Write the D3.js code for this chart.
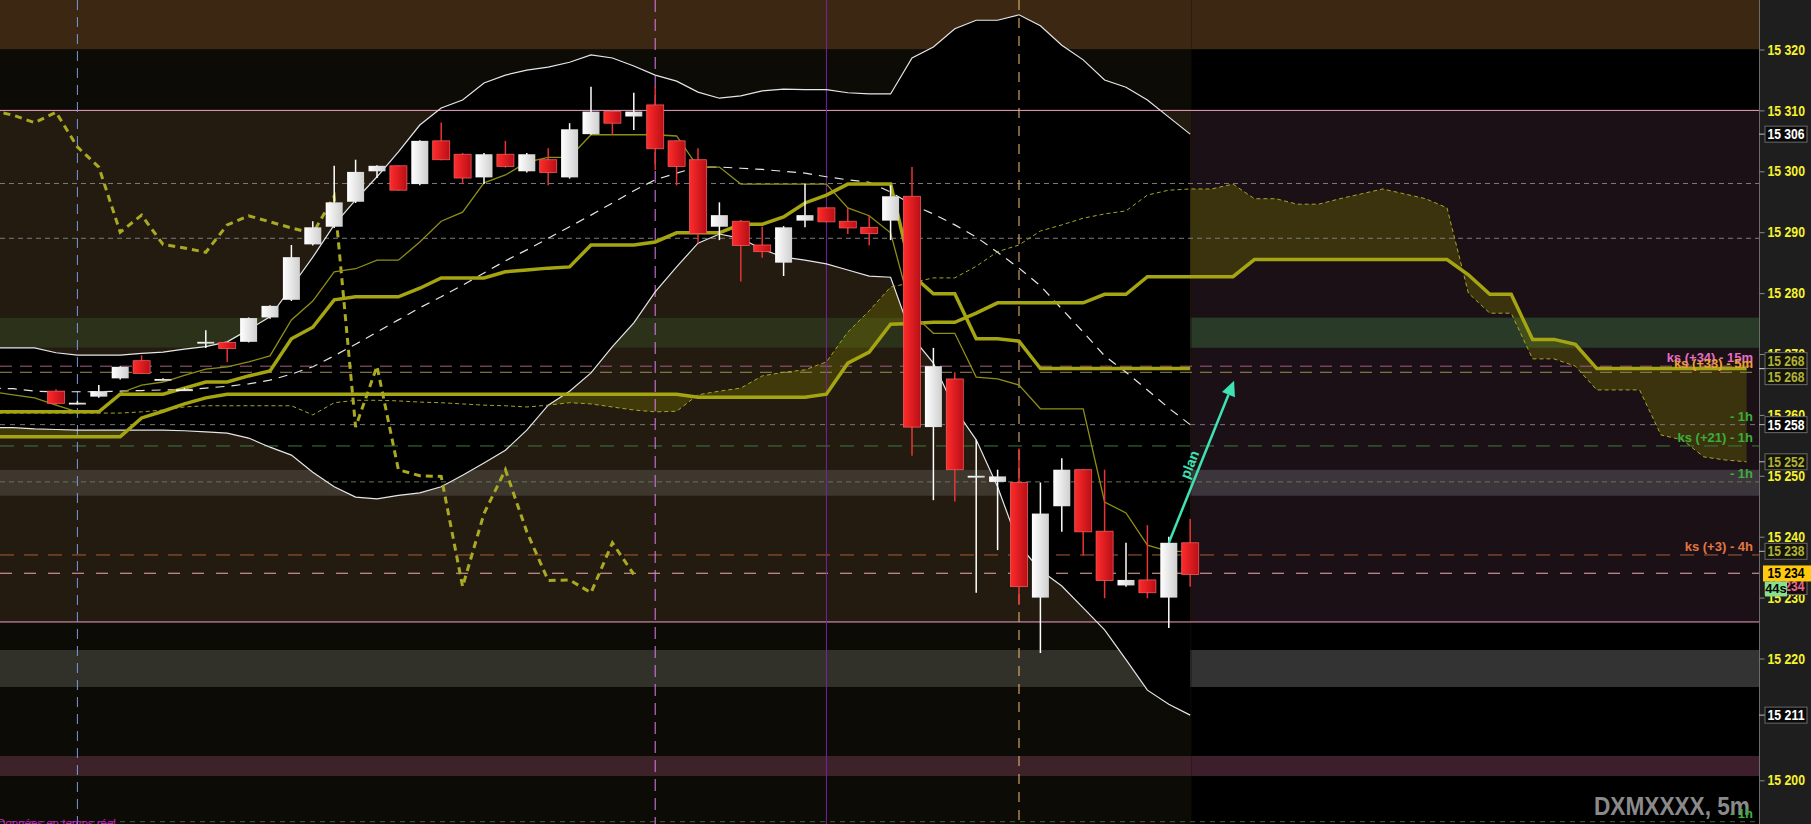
<!DOCTYPE html>
<html>
<head>
<meta charset="utf-8">
<script src="https://cdn.jsdelivr.net/npm/d3@7"></script>
<style>
  html, body { margin: 0; padding: 0; background: #000; overflow: hidden; }
  svg { display: block; }
  text { font-family: "Liberation Sans", Arial, sans-serif; }
</style>
</head>
<body>
<div id="chart"></div>
<script>
// DXMXXXX 5m - candles + bollinger + ichimoku

// ---- data ----
const openP = [15263.9,15262,15263,15266,15268.9,15265.8,15264.2,15272,15271.9,15272,
  15276,15278.9,15288,15290.9,15295,15300,15300.9,15297.9,15305,15302.8,
  15299,15302.8,15300,15301.9,15299,15306.1,15309.8,15309,15310.9,15305,
  15301.9,15290.9,15291.8,15287.9,15285,15291.9,15294,15291.8,15290.8,15291.9,
  15295.9,15258,15265.9,15250,15249,15248.9,15230,15245,15251,15240.9,
  15232,15232.9,15230,15239]
const highP = [15264.2,15262.3,15264.9,15268,15269.8,15266,15264.4,15273.9,15272,15276,
  15278,15287.9,15291.8,15300.9,15301.9,15301,15301,15305.1,15308,15303,
  15303,15305,15303,15303.8,15307.9,15313.9,15310,15312.9,15313.9,15305.1,
  15303.8,15294.9,15292,15290.9,15291,15297.9,15294.1,15294,15292.7,15297.7,
  15300.7,15271,15267,15255.9,15251,15254.5,15248.9,15252.9,15251.1,15251,
  15239,15241.9,15240,15242.9]
const lowP = [15261.6,15261.7,15262.8,15265.8,15266.7,15265.7,15264,15271,15268.7,15271.9,
  15275.8,15278.7,15287.8,15290.7,15294.8,15298.9,15296.8,15297.7,15301.8,15297.9,
  15297.9,15300.6,15299.8,15297.7,15298.8,15306,15306,15306.8,15300.2,15297.7,
  15288.2,15288.7,15281.9,15285.8,15282.8,15290.8,15291.6,15289.7,15287.8,15288.7,
  15253.3,15246,15245.8,15230.8,15237.8,15228.8,15220.9,15240.8,15236.9,15229.9,
  15231.8,15229.9,15225,15231.8]
const closeP = [15261.9,15262,15263.9,15267.9,15266.8,15265.9,15264.2,15272,15270.9,15275.9,
  15277.9,15285.9,15290.8,15294.9,15299.9,15300.9,15296.9,15305,15301.9,15298.9,
  15302.8,15300.8,15302.8,15299.8,15306.9,15309.8,15307.9,15309.8,15303.7,15300.8,
  15289.8,15292.8,15287.8,15286.8,15290.8,15292.8,15291.7,15290.7,15289.8,15295.9,
  15258,15268,15251,15250,15249.9,15231.8,15243.8,15251,15240.8,15232.8,
  15232.9,15230.8,15239,15233.8]

// indicators start at bar -3 (off the left edge)
const bbUpper = [15271,15271,15271,15270.2,15269.8,15269.8,15269.8,15270.1,15270.3,15270.8,
  15271.2,15272,15274,15276.1,15281,15285.9,15291.2,15295.3,15299.1,15303.2,
  15307.6,15310.4,15311.7,15314.5,15315.8,15316.6,15317.1,15317.9,15319.1,15318.6,
  15317.3,15315.8,15314.8,15313,15312,15312.4,15313.2,15313.5,15313.4,15313.4,
  15312.9,15312.7,15312.7,15318.6,15320.4,15323.4,15324.8,15324.8,15325.7,15323.9,
  15320.7,15318.3,15315,15313.8,15311.7,15308.9,15306.1]
const bbMid = [15264.4,15264.3,15263.9,15263.8,15263.8,15263.8,15263.9,15264,15264.1,15264.1,
  15264.4,15264.7,15265.1,15265.7,15266.7,15267.9,15269.7,15271.6,15273.6,15275.6,
  15277.6,15279.4,15281.3,15283.3,15285.3,15287.1,15289,15290.9,15292.8,15294.8,
  15296.8,15298.6,15299.7,15300.7,15300.7,15300.5,15300.3,15300,15299.7,15299.1,
  15298.6,15298.2,15296.6,15294.5,15293,15291.2,15289.2,15286.7,15284.1,15281.2,
  15277.4,15273.6,15269.7,15267,15264.1,15261.1,15258.4]
const bbLower = [15257.9,15257.9,15257.7,15257.6,15257.5,15257.5,15257.5,15257.5,15257.5,15257.4,
  15257.2,15257,15256.2,15254.7,15253.4,15250.6,15248.2,15246.5,15246.2,15246.8,
  15247.2,15248.2,15250.1,15252.1,15254.2,15257.5,15261.6,15263.9,15266.9,15271.2,
  15275.1,15280.2,15284.3,15288.2,15289.7,15289,15287.2,15285.9,15285.4,15284.8,
  15283.8,15282.8,15282.6,15272.8,15268.5,15261,15255.9,15248.2,15238.6,15234.5,
  15231.9,15228.3,15224.7,15219.8,15214.8,15212.5,15210.7]
const tenkan = [15263.8,15263.3,15262.8,15261.6,15260.5,15260.5,15263.6,15264.9,15265.4,15266.5,
  15267.5,15267.9,15268.7,15269.7,15275.6,15278.7,15283.5,15284,15285.4,15285.4,
  15288.4,15291.8,15293.3,15298.1,15299.4,15301.5,15302.3,15302.3,15306,15306,
  15306,15306,15305.8,15300.7,15300.7,15297.9,15297.9,15297.9,15297.9,15297.9,
  15294,15292.7,15289.9,15276.7,15273.4,15273.4,15266.2,15265.9,15264.9,15261,
  15261,15261,15245.7,15243.9,15238.6,15237.6,15237.6]
const kijun = [15260.5,15260.5,15260.5,15260.5,15260.5,15260.5,15263.4,15263.4,15263.4,15264.4,
  15265.4,15265.4,15266.4,15267.2,15272.5,15274.4,15278.9,15279.4,15279.4,15279.4,
  15280.8,15282.5,15282.5,15282.5,15283.5,15283.8,15284.1,15284.3,15287.9,15287.9,
  15287.9,15288.4,15289.9,15289.9,15289.9,15291.3,15291.3,15292.5,15294.8,15296.1,
  15297.9,15297.9,15297.9,15283,15279.9,15279.9,15272.5,15272.5,15272.1,15267.6,
  15267.6,15267.6,15267.6,15267.6,15267.6,15267.6,15267.6]
// lagging span, bars -3 .. 27
const chikou = [15310,15309.2,15308,15309.7,15304,15300.7,15290,15292.8,15288,15287.4,
  15286.7,15291.2,15292.7,15291.7,15290.7,15289.8,15295.9,15258,15268,15251,
  15250,15249.9,15231.8,15243.8,15251,15240.8,15232.8,15232.9,15230.8,15239,15233.8]
// leading spans, bars -3 .. 79
const spanA = [15260.3,15260.3,15260.3,15260.3,15260.3,15260.3,15260.3,15260.5,15260.8,15261.3,
  15261.5,15261.5,15261.5,15261.5,15261.5,15260,15262,15262.4,15262.4,15262.3,
  15262.1,15262,15261.8,15261.6,15261.5,15261.3,15261.6,15262,15261.8,15261.3,
  15260.8,15260.5,15260.6,15263.3,15263.9,15264.4,15266.4,15267,15267.4,15268.7,
  15273.6,15277.1,15281,15281.7,15282.5,15282.5,15284.4,15286.8,15287.9,15290.2,
  15291.2,15292.3,15293,15293.5,15296.1,15296.9,15297.1,15297.1,15297.9,15295.5,
  15295.5,15294.6,15294.6,15295.5,15296.3,15297.1,15296.3,15295.5,15294,15280,
  15276.7,15276.7,15269.2,15269.2,15268,15264.1,15264.1,15264.1,15256.7,15255.9,
  15253.1,15252.6,15252.3]
const spanB = [15256.4,15256.4,15256.4,15256.4,15256.4,15256.4,15256.4,15259.5,15260.6,15261.8,
  15262.8,15263.4,15263.4,15263.4,15263.4,15263.4,15263.4,15263.4,15263.4,15263.4,
  15263.4,15263.4,15263.4,15263.4,15263.4,15263.4,15263.4,15263.4,15263.4,15263.4,
  15263.4,15263.4,15263.4,15262.9,15262.9,15262.9,15262.9,15262.9,15262.9,15263.4,
  15268.5,15270.3,15274.9,15275,15275.2,15275.2,15276.7,15278.4,15278.4,15278.4,
  15278.4,15278.4,15279.8,15279.8,15282.7,15282.7,15282.7,15282.7,15282.7,15285.5,
  15285.5,15285.5,15285.5,15285.5,15285.5,15285.5,15285.5,15285.5,15285.5,15283,
  15279.8,15279.8,15272.4,15272.4,15271.6,15267.6,15267.6,15267.6,15267.6,15267.6,
  15267.6,15267.6,15267.6]

// background price zones (past / future colours)
const zoneTop = [15335, 15320, 15310, 15276, 15271, 15251, 15246.7, 15226, 15221.4, 15215.3, 15204, 15200.7]
const zoneBottom = [15320, 15310, 15276, 15271, 15251, 15246.7, 15226, 15221.4, 15215.3, 15204, 15200.7, 15180]
const zonePast = ['#3b2712', '#0c0b05', '#231a10', '#2b3219', '#231a10', '#3d372d', '#231a10', '#0c0b05', '#31312a', '#0c0b05', '#3d2229', '#0c0b05']
const zoneFuture = ['#3b2712', '#000000', '#1b1016', '#293a29', '#1b1016', '#3c353b', '#1b1016', '#000000', '#333333', '#000000', '#3d1f2b', '#000000']

// horizontal levels
const levelPrices = [15310, 15226, 15298, 15289, 15268, 15267, 15258.4, 15254.9, 15249, 15237, 15234, 15193.2]
const levelColors = ['#f0a2c4', '#f0a2c4', '#7c7c7c', '#7c7c7c', '#a0607e', '#a08a55', '#7a7a7a', '#3f7a3f', '#667458', '#a85c38', '#f0a8a8', '#3a6a3a']
const levelDash = [null, null, '5,4', '5,4', '12,8', '12,8', '5,5', '14,10', '5,4', '14,10', '12,12', '5,5']

const levelLabelPrices = [15268, 15267, 15258.4, 15254.9, 15249, 15237, 15193.2]
const levelLabelTexts = ['ks (+34) - 15m', 'ks (+33) - 5m', '- 1h', 'ks (+21) - 1h', '- 1h', 'ks (+3) - 4h', '- 1h']
const levelLabelColors = ['#e46ec4', '#eaa236', '#3cae3c', '#3cae3c', '#3cae3c', '#e27644', '#3cae3c']

// vertical markers (bar index)
const vlineBars = [1, 28, 36, 45]
const vlineColors = ['#7b97e6', '#e07ef0', '#7a22a6', '#f2c274']
const vlineDash = ['10,7', '12,7', null, '10,8']

const tickPrices = [15320, 15310, 15300, 15290, 15280, 15270, 15260, 15250, 15240, 15230, 15220, 15200]

// plan arrow
const planFrom = { i: 52, p: 15239 }
const planTo = { i: 55.05, p: 15265.6 }

// ---- layout ----
const W = 1811, H = 824
const axisX = 1759

const x = d3.scaleLinear().domain([0, 53]).range([56, 1190.2])
const y = d3.scaleLinear().domain([15200, 15320]).range([780.3, 49.5])
const splitX = x(53) + 1.5

const svg = d3.select('#chart').append('svg')
  .attr('width', W).attr('height', H)

const defs = svg.append('defs')
defs.append('clipPath').attr('id', 'plot')
  .append('rect').attr('x', 0).attr('y', 0).attr('width', axisX).attr('height', H)

const redGrad = defs.append('linearGradient').attr('id', 'redg')
redGrad.append('stop').attr('offset', '0%').attr('stop-color', '#ff2b2b')
redGrad.append('stop').attr('offset', '100%').attr('stop-color', '#b80f16')
const whiteGrad = defs.append('linearGradient').attr('id', 'whiteg')
whiteGrad.append('stop').attr('offset', '0%').attr('stop-color', '#ffffff')
whiteGrad.append('stop').attr('offset', '100%').attr('stop-color', '#cfcfcf')

svg.append('rect').attr('x', axisX).attr('y', 0).attr('width', W - axisX).attr('height', H).attr('fill', '#1e1e1e')

const plot = svg.append('g').attr('clip-path', 'url(#plot)')

// zones
zoneTop.forEach((t, k) => {
  plot.append('rect')
    .attr('x', 0).attr('y', y(t)).attr('width', splitX).attr('height', y(zoneBottom[k]) - y(t))
    .attr('fill', zonePast[k])
  plot.append('rect')
    .attr('x', splitX).attr('y', y(t)).attr('width', axisX - splitX).attr('height', y(zoneBottom[k]) - y(t))
    .attr('fill', zoneFuture[k])
})

const series = (arr, start) => arr.map((v, k) => ({ i: start + k, v: v }))
const line = d3.line().x(d => x(d.i)).y(d => y(d.v))

// cloud
const cloud = spanA.map((a, k) => ({ i: k - 3, a: a, b: spanB[k] }))
plot.append('path')
  .attr('d', d3.area().x(d => x(d.i)).y0(d => y(d.a)).y1(d => y(d.b))(cloud))
  .attr('fill', 'rgba(128,128,0,0.32)')

// bollinger fill
const bb = bbUpper.map((u, k) => ({ i: k - 3, u: u, l: bbLower[k] }))
plot.append('path')
  .attr('d', d3.area().x(d => x(d.i)).y0(d => y(d.u)).y1(d => y(d.l))(bb))
  .attr('fill', '#000')

// horizontal levels
levelPrices.forEach((p, k) => {
  plot.append('line')
    .attr('x1', 0).attr('x2', axisX)
    .attr('y1', y(p)).attr('y2', y(p))
    .attr('stroke', levelColors[k])
    .attr('stroke-width', 1)
    .attr('stroke-dasharray', levelDash[k])
})

// vertical markers
vlineBars.forEach((b, k) => {
  plot.append('line')
    .attr('x1', x(b)).attr('x2', x(b))
    .attr('y1', 0).attr('y2', H)
    .attr('stroke', vlineColors[k])
    .attr('stroke-width', 1)
    .attr('stroke-dasharray', vlineDash[k])
})

// bollinger lines
plot.append('path').attr('d', line(series(bbUpper, -3)))
  .attr('fill', 'none').attr('stroke', '#e6e6e6').attr('stroke-width', 1.2)
plot.append('path').attr('d', line(series(bbLower, -3)))
  .attr('fill', 'none').attr('stroke', '#e6e6e6').attr('stroke-width', 1.2)
plot.append('path').attr('d', line(series(bbMid, -3)))
  .attr('fill', 'none').attr('stroke', '#e6e6e6').attr('stroke-width', 1.2)
  .attr('stroke-dasharray', '9,7')

// ichimoku
plot.append('path').attr('d', line(series(spanA, -3)))
  .attr('fill', 'none').attr('stroke', '#a6a626').attr('stroke-width', 1)
  .attr('stroke-dasharray', '4,3')
plot.append('path').attr('d', line(series(spanB, -3)))
  .attr('fill', 'none').attr('stroke', '#a5a512').attr('stroke-width', 3.5)
plot.append('path').attr('d', line(series(chikou, -3)))
  .attr('fill', 'none').attr('stroke', '#a9a922').attr('stroke-width', 3)
  .attr('stroke-dasharray', '7,5')
plot.append('path').attr('d', line(series(tenkan, -3)))
  .attr('fill', 'none').attr('stroke', '#8e8e16').attr('stroke-width', 1.3)
plot.append('path').attr('d', line(series(kijun, -3)))
  .attr('fill', 'none').attr('stroke', '#a5a512').attr('stroke-width', 3.5)

// candles
const candles = openP.map((o, i) => ({ i: i, o: o, h: highP[i], l: lowP[i], c: closeP[i] }))
const cg = plot.append('g')
cg.selectAll('.wick').data(candles).enter().append('line')
  .attr('class', 'wick')
  .attr('x1', d => x(d.i)).attr('x2', d => x(d.i))
  .attr('y1', d => y(d.h)).attr('y2', d => y(d.l))
  .attr('stroke', d => d.c >= d.o ? '#ffffff' : '#e83434')
  .attr('stroke-width', 1.5)
cg.selectAll('.body').data(candles).enter().append('rect')
  .attr('class', 'body')
  .attr('x', d => x(d.i) - 8.5)
  .attr('width', 17)
  .attr('y', d => y(Math.max(d.o, d.c)))
  .attr('height', d => Math.max(1.8, Math.abs(y(d.o) - y(d.c))))
  .attr('fill', d => d.c >= d.o ? 'url(#whiteg)' : 'url(#redg)')
  .attr('stroke', d => d.c >= d.o ? 'none' : '#f05a5a')
  .attr('stroke-width', 0.8)

// plan arrow
const ax1 = x(planFrom.i), ay1 = y(planFrom.p), ax2 = x(planTo.i), ay2 = y(planTo.p)
const ang = Math.atan2(ay2 - ay1, ax2 - ax1)
const headLen = 15, headW = 7
const bx = ax2 - headLen * Math.cos(ang), by = ay2 - headLen * Math.sin(ang)
plot.append('line')
  .attr('x1', ax1).attr('y1', ay1).attr('x2', bx).attr('y2', by)
  .attr('stroke', '#3fe2b4').attr('stroke-width', 2.5)
plot.append('path')
  .attr('d', 'M' + ax2 + ',' + ay2 +
    'L' + (bx + headW * Math.sin(ang)) + ',' + (by - headW * Math.cos(ang)) +
    'L' + (bx - headW * Math.sin(ang)) + ',' + (by + headW * Math.cos(ang)) + 'Z')
  .attr('fill', '#3fe2b4')
const tmx = ax1 + (ax2 - ax1) * 0.46, tmy = ay1 + (ay2 - ay1) * 0.46
plot.append('text')
  .attr('transform', 'translate(' + tmx + ',' + tmy + ') rotate(' + (ang * 180 / Math.PI) + ')')
  .attr('text-anchor', 'middle')
  .attr('dy', -5)
  .attr('font-size', 14)
  .attr('font-weight', 'bold')
  .attr('fill', '#3fe2b4')
  .text('plan')

// watermark + footer
plot.append('text')
  .attr('x', 1750).attr('y', 815)
  .attr('text-anchor', 'end')
  .attr('font-size', 25)
  .attr('font-weight', 'bold')
  .attr('fill', '#8a8a8a')
  .attr('textLength', 156)
  .attr('lengthAdjust', 'spacingAndGlyphs')
  .text('DXMXXXX, 5m')

plot.append('text')
  .attr('x', -3).attr('y', 827)
  .attr('font-size', 11.5)
  .attr('fill', '#d21fd2')
  .text('Données en temps réel')

// level labels
levelLabelPrices.forEach((p, k) => {
  plot.append('text')
    .attr('x', 1753).attr('y', y(p) - 4)
    .attr('text-anchor', 'end')
    .attr('font-size', 13)
    .attr('font-weight', 'bold')
    .attr('fill', levelLabelColors[k])
    .text(levelLabelTexts[k])
})

// right axis
const fmt = v => d3.format(',')(Math.round(v)).replace(',', ' ')
svg.append('line')
  .attr('x1', axisX + 0.5).attr('x2', axisX + 0.5).attr('y1', 0).attr('y2', H)
  .attr('stroke', '#6a6a6a')
const yAxis = d3.axisRight(y).tickValues(tickPrices).tickSize(5).tickPadding(3).tickFormat(fmt)
const axisG = svg.append('g')
  .attr('transform', 'translate(' + (axisX + 0.5) + ',0)')
  .call(yAxis)
axisG.select('.domain').remove()
axisG.selectAll('line').attr('stroke', '#8a8a8a')
axisG.selectAll('text')
  .attr('fill', '#f6f22e')
  .attr('font-size', 14.5)
  .attr('font-weight', 'bold')
  .attr('font-family', '"Liberation Sans", Arial, sans-serif')
  .attr('textLength', 37.5)
  .attr('lengthAdjust', 'spacingAndGlyphs')

// value boxes at the right edge
const boxes = [
  { v: bbUpper[bbUpper.length - 1], fg: '#ffffff', bg: '#0a0a0a', dy: 0 },
  { v: kijun[kijun.length - 1], fg: '#b2b23a', bg: '#141408', dy: -8 },
  { v: spanB[spanB.length - 1], fg: '#b2b23a', bg: '#141408', dy: 8 },
  { v: bbMid[bbMid.length - 1], fg: '#ffffff', bg: '#0a0a0a', dy: 0 },
  { v: spanA[spanA.length - 1], fg: '#b2b23a', bg: '#141408', dy: 0 },
  { v: tenkan[tenkan.length - 1], fg: '#b2b23a', bg: '#141408', dy: 0 },
  { v: bbLower[bbLower.length - 1], fg: '#ffffff', bg: '#0a0a0a', dy: 0 }
]
const boxText = (g, xx, yy, txt, color, anchor) => g.append('text')
  .attr('x', xx).attr('y', yy).attr('text-anchor', anchor)
  .attr('font-size', 14.5).attr('font-weight', 'bold').attr('fill', color)
  .attr('textLength', 37).attr('lengthAdjust', 'spacingAndGlyphs')
  .text(txt)

const bxG = svg.append('g')
boxes.forEach(b => {
  const cy = y(b.v) + b.dy
  bxG.append('line').attr('x1', axisX).attr('x2', axisX + 6).attr('y1', y(b.v)).attr('y2', y(b.v)).attr('stroke', '#bbb')
  bxG.append('rect').attr('x', 1765).attr('y', cy - 8).attr('width', 42).attr('height', 16)
    .attr('fill', b.bg).attr('stroke', '#6a6a6a').attr('stroke-width', 1)
  boxText(bxG, 1767.5, cy + 5, fmt(b.v), b.fg, 'start')
})

// last price
const last = closeP[closeP.length - 1]
const ly = y(last) - 1
bxG.append('rect').attr('x', 1765).attr('y', ly + 6).attr('width', 42).attr('height', 15)
  .attr('fill', '#160c10').attr('stroke', '#6a6a6a')
boxText(bxG, 1767.5, ly + 18, fmt(last), '#e26a8c', 'start')
bxG.append('rect').attr('x', 1763).attr('y', ly - 8).attr('width', 50).attr('height', 16)
  .attr('fill', '#ffc90c')
boxText(bxG, 1767.5, ly + 5, fmt(last), '#000', 'start')
bxG.append('rect').attr('x', 1765).attr('y', ly + 8).attr('width', 22).attr('height', 15)
  .attr('fill', '#86e08e')
bxG.append('text').attr('x', 1776).attr('y', ly + 20).attr('text-anchor', 'middle')
  .attr('font-size', 13).attr('font-weight', 'bold').attr('fill', '#000').text('44s')
</script>
</body>
</html>
